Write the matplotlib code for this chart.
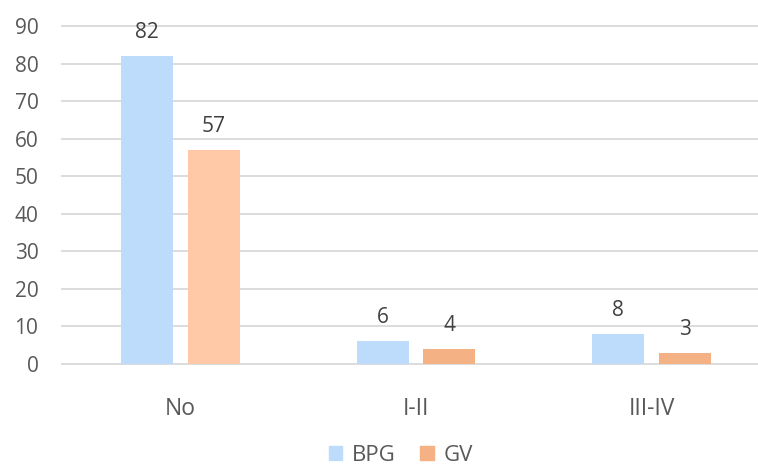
import matplotlib.pyplot as plt
import numpy as np
from matplotlib.patches import Patch

categories = ['No', 'I-II', 'III-IV']
bpg = [82, 6, 8]
gv = [57, 4, 3]

bpg_color = '#BDDCFB'
gv_colors = ['#FFC9A8', '#F4B183', '#F4B183']
text_color = '#595959'

plt.rcParams['font.family'] = ['Open Sans', 'DejaVu Sans']

fig = plt.figure(figsize=(7.58, 4.65), dpi=100)
ax = fig.add_axes([62 / 758, 1 - 364 / 465, 1 - 62 / 758, (364 - 26) / 465])

x = np.arange(len(categories))
w = 0.221
off = 0.142
b1 = ax.bar(x - off, bpg, w, color=bpg_color, zorder=3)
b2 = ax.bar(x + off, gv, w, color=gv_colors, zorder=3)

for rects, vals in [(b1, bpg), (b2, gv)]:
    for r, v in zip(rects, vals):
        ax.text(r.get_x() + r.get_width() / 2, v + 6.3, str(v),
                ha='center', va='center', fontsize=15, color='#404040')

ax.set_xlim(-0.503, 2.452)
ax.set_ylim(0, 90)
ax.set_yticks(range(0, 91, 10))
ax.yaxis.grid(True, color='#D9D9D9', linewidth=1.3, zorder=0, clip_on=False)
ax.set_axisbelow(True)
for s in ax.spines.values():
    s.set_visible(False)
ax.tick_params(axis='y', length=0, labelsize=15, labelcolor=text_color, pad=17)
ax.set_xticks(x)
ax.set_xticklabels(categories)
ax.tick_params(axis='x', length=0, labelsize=16.5, labelcolor=text_color, pad=24)

handles = [Patch(color=bpg_color, label='BPG'), Patch(color='#F4B183', label='GV')]
fig.legend(handles=handles, loc='center', bbox_to_anchor=(401 / 758, 1 - 455 / 465),
           ncol=2, frameon=False, fontsize=16, labelcolor=text_color,
           handlelength=0.6, handleheight=0.6, handletextpad=0.45, columnspacing=1.1)

fig.savefig('out.png', dpi=100, facecolor='white')
